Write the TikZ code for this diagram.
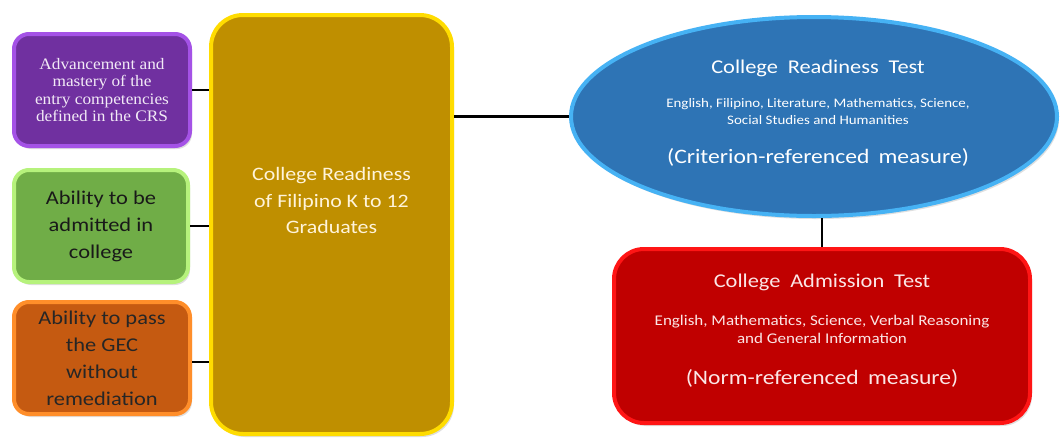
\documentclass[tikz,border=0pt]{standalone}
\usepackage{fontspec}
\setmainfont{Carlito}
\newfontfamily\widefont{Carlito}[FakeStretch=1.15]
\newfontfamily\timesfont{Liberation Serif}[FakeStretch=1.08]
\usetikzlibrary{calc,shapes.geometric,shadows}
\definecolor{purplefill}{HTML}{7030A0}
\definecolor{purpleedge}{HTML}{A452E6}
\definecolor{purpletext}{HTML}{F2EAF6}
\definecolor{greenfill}{HTML}{70AD47}
\definecolor{greenedge}{HTML}{B6F27C}
\definecolor{orangefill}{HTML}{C55A11}
\definecolor{orangeedge}{HTML}{FF8E2A}
\definecolor{goldfill}{HTML}{BF8F00}
\definecolor{goldedge}{HTML}{FFDC00}
\definecolor{goldtext}{HTML}{FFF4DA}
\definecolor{bluefill}{HTML}{2E74B5}
\definecolor{blueedge}{HTML}{46B2F4}
\definecolor{redfill}{HTML}{C00000}
\definecolor{rededge}{HTML}{FF1515}
\definecolor{redtext}{HTML}{FBE6E6}
\tikzstyle{bx} = [rectangle,rounded corners=15pt,line width=4pt,align=center,inner sep=0pt,drop shadow={shadow xshift=2pt,shadow yshift=-3pt,opacity=0.25}]
\tikzstyle{lt} = [align=center,anchor=center]
\tikzstyle{lnk} = [draw=black,line width=2.5pt]
\newcommand{\sidefont}{\widefont\fontsize{19.5}{27}\selectfont}
\newcommand{\bigfont}{\widefont\fontsize{19}{26.5}\selectfont}
\newcommand{\headfont}{\widefont\fontsize{19.5}{22}\selectfont\spaceskip=0.5em plus 0.1em}
\newcommand{\notefont}{\widefont\fontsize{20.5}{22}\selectfont\spaceskip=0.45em plus 0.1em}
\newcommand{\smallfont}{\widefont\fontsize{13}{17}\selectfont}
\newcommand{\smallerfont}{\widefont\fontsize{14.8}{18}\selectfont}
\begin{document}
\begin{tikzpicture}[x=1pt,y=-1pt]
  \fill[white] (0,0) rectangle (1060,437);
  \useasboundingbox (0,0) rectangle (1060,437);
  % left column
  \node[bx,draw=purpleedge,fill=purplefill,minimum width=176pt,minimum height=112pt,text=purpletext,font=\timesfont\fontsize{16}{17.5}\selectfont](adv) at (102,90) {Advancement and\\mastery of the\\entry competencies\\defined in the CRS};
  \node[bx,draw=greenedge,fill=greenfill,minimum width=174pt,minimum height=112pt,text=black!90,font=\sidefont](abl) at (101,226) {Ability to be\\admitted in\\college};
  \node[bx,draw=orangeedge,fill=orangefill,minimum width=176pt,minimum height=112pt,text=black!85,font=\sidefont](pas) at (102,358) {Ability to pass\\the GEC\\without\\remediation};
  % centre
  \node[bx,draw=goldedge,fill=goldfill,minimum width=241pt,minimum height=419pt,rounded corners=32pt](crk) at (331.5,224.5) {};
  \node[lt,text=goldtext,font=\bigfont](crktxt) at ($(crk)+(0,-24)$) {College Readiness\\of Filipino K to 12\\Graduates};
  % right
  \node[ellipse,draw=blueedge,fill=bluefill,line width=4pt,minimum width=486pt,minimum height=199pt,inner sep=0pt,drop shadow={shadow xshift=2pt,shadow yshift=-3pt,opacity=0.25}](crt) at (814,116.5) {};
  \node[lt,text=white,font=\headfont](crthead) at ($(crt)+(4,-48.5)$) {College Readiness Test};
  \node[lt,text=white,font=\smallfont](crtsub) at ($(crt)+(4,-5)$) {English, Filipino, Literature, Mathematics, Science,\\Social Studies and Humanities};
  \node[lt,text=white,font=\notefont](crtnote) at ($(crt)+(4,40.5)$) {(Criterion-referenced measure)};
  \node[bx,draw=rededge,fill=redfill,minimum width=416pt,minimum height=174pt,rounded corners=30pt](cat) at (822,336) {};
  \node[lt,text=redtext,font=\headfont](cathead) at ($(cat)+(0,-54)$) {College Admission Test};
  \node[lt,text=redtext,font=\smallerfont](catsub) at ($(cat)+(0,-7)$) {English, Mathematics, Science, Verbal Reasoning\\and General Information};
  \node[lt,text=redtext,font=\notefont](catnote) at ($(cat)+(0,42)$) {(Norm-referenced measure)};
  % connectors
  \draw[lnk] (adv.east) -- (adv.east -| crk.west);
  \draw[lnk] (abl.east) -- (abl.east -| crk.west);
  \draw[lnk] ($(pas.east)+(0,4)$) -- ($(pas.east -| crk.west)+(0,4)$);
  \draw[lnk] (crk.east |- crt.west) -- (crt.west);
  \draw[lnk] (cat.north) -- (cat.north |- crt.south);
\end{tikzpicture}
\end{document}
